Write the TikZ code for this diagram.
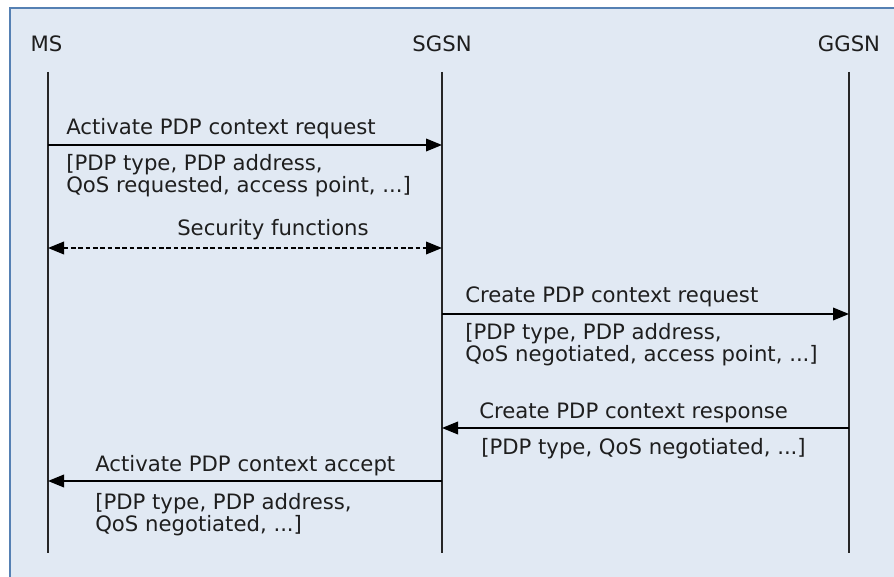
\documentclass[tikz,border=0pt]{standalone}
\usepackage{fontspec}
\setmainfont{DejaVu Sans}
\usetikzlibrary{arrows.meta}
\definecolor{bgblue}{HTML}{E1E9F3}
\definecolor{framecol}{HTML}{5580B3}
\definecolor{txt}{HTML}{1E1E1E}
\begin{document}
\begin{tikzpicture}[x=0.75pt,y=-0.75pt,
  lifeline/.style={line width=1.5pt, draw=black!85},
  msg/.style={line width=1.1pt, draw=black, -{Triangle[length=12pt,width=9.5pt]}},
  msgboth/.style={line width=1.1pt, draw=black, dashed, dash pattern=on 3.5pt off 2pt, {Triangle[length=12pt,width=9.5pt]}-{Triangle[length=12pt,width=9.5pt]}},
  hdr/.style={text=txt, inner sep=0pt, anchor=base, font=\fontsize{15.9pt}{16.5pt}\selectfont},
  lbl/.style={text=txt, inner sep=0pt, anchor=base west, align=left, font=\fontsize{15.9pt}{16.5pt}\selectfont}]
\useasboundingbox (0,0) rectangle (894,577);
\clip (0,0) rectangle (894,577);
\fill[white] (0,0) rectangle (894,577);
\draw[draw=framecol, fill=bgblue, line width=1.2pt] (10,8) rectangle (910,600);
% headers
\node[hdr] (ms) at (46.5,52) {MS};
\node[hdr] (sgsn) at (442,52) {SGSN};
\node[hdr] (ggsn) at (849,52) {GGSN};
% lifelines
\coordinate (msT) at (48,72);   \coordinate (msB) at (48,553);
\coordinate (sgT) at (442,72);  \coordinate (sgB) at (442,553);
\coordinate (ggT) at (849,72);  \coordinate (ggB) at (849,553);
\draw[lifeline] (msT) -- (msB);
\draw[lifeline] (sgT) -- (sgB);
\draw[lifeline] (ggT) -- (ggB);
% message points
\coordinate (m1a) at (48,145);  \coordinate (m1b) at (442,145);
\coordinate (m2a) at (48,248);  \coordinate (m2b) at (442,248);
\coordinate (m3a) at (442,314); \coordinate (m3b) at (849,314);
\coordinate (m4a) at (849,428); \coordinate (m4b) at (442,428);
\coordinate (m5a) at (442,481); \coordinate (m5b) at (48,481);
\draw[msg] (m1a) -- (m1b);
\draw[msgboth] (m2a) -- (m2b);
\draw[msg] (m3a) -- (m3b);
\draw[msg] (m4a) -- (m4b);
\draw[msg] (m5a) -- (m5b);
% labels
\node[lbl] (t1) at (66,135) {Activate PDP context request};
\node[lbl] (p1) at (66,193) {[PDP type, PDP address,\\QoS requested, access point, ...]};
\node[lbl] (t2) at (177,236) {Security functions};
\node[lbl] (t3) at (465,303) {Create PDP context request};
\node[lbl] (p3) at (465,362) {[PDP type, PDP address,\\QoS negotiated, access point, ...]};
\node[lbl] (t4) at (479,419) {Create PDP context response};
\node[lbl] (p4) at (481,455) {[PDP type, QoS negotiated, ...]};
\node[lbl] (t5) at (95,472) {Activate PDP context accept};
\node[lbl] (p5) at (95,532) {[PDP type, PDP address,\\QoS negotiated, ...]};
\end{tikzpicture}
\end{document}
